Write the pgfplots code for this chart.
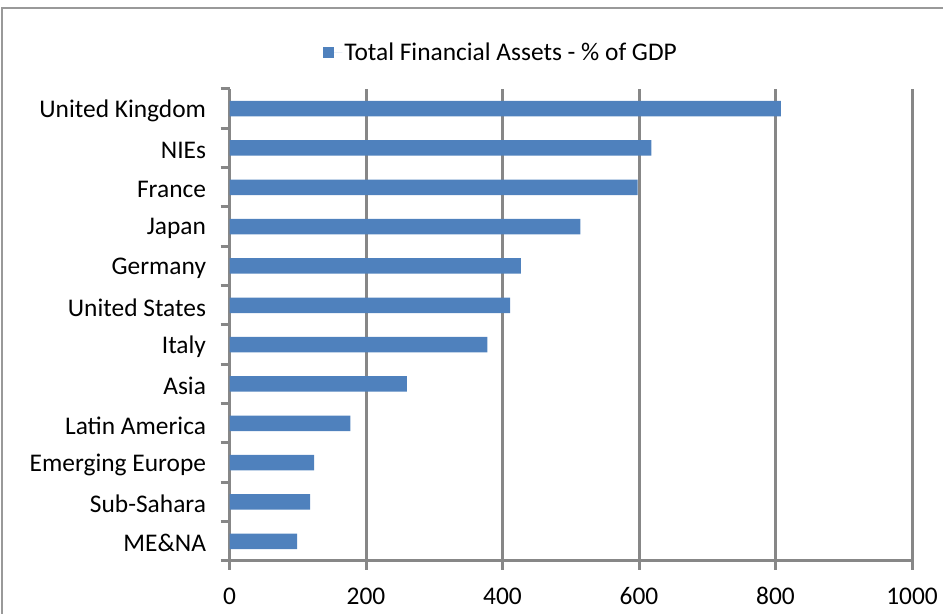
\documentclass[border=0pt]{standalone}
\usepackage{fontspec}
\setmainfont{Carlito}
\usepackage{pgfplots}
\pgfplotsset{compat=1.18}
\definecolor{barblue}{HTML}{4F81BD}
\definecolor{axgray}{HTML}{878787}
\begin{document}
\begin{tikzpicture}[x=1bp,y=1bp]
\useasboundingbox (0,0) rectangle (943,614);
\draw[axgray!85, line width=2bp] (2,-2) -- (2,606) -- (945,606);
\begin{axis}[
  at={(229.5bp,53bp)}, anchor=south west,
  scale only axis, width=682.5bp, height=472bp,
  xbar, bar width=15.5bp,
  xmin=0, xmax=1000, ymin=-0.5, ymax=11.5,
  xtick={0,200,...,1000},
  ytick={0,...,11},
  yticklabels={ME\&NA, Sub-Sahara, Emerging Europe, Latin America, Asia, Italy, United States, Germany, Japan, France, NIEs, United Kingdom},
  minor ytick={-0.5,0.5,...,11.5},
  axis x line*=bottom, axis y line*=left,
  axis line style={axgray, line width=3bp, -},
  xmajorgrids, major grid style={axgray, line width=3bp},
  tick align=outside,
  major tick length=9bp, minor tick length=9bp,
  xtick style={axgray, line width=3bp},
  major y tick style={draw=none},
  minor y tick style={axgray, line width=3bp, draw=axgray},
  /pgf/number format/assume math mode=true,
  /pgf/number format/1000 sep={},
  ticklabel style={font=\fontsize{25.5}{30}\selectfont},
  xticklabel style={yshift=-14bp},
  yticklabel style={xshift=-11bp, yshift=-2bp},
  legend style={at={(0.398,1.078)}, anchor=center, draw=none, fill=none,
    font=\fontsize{25.5}{30}\selectfont, inner sep=0pt},
  legend image code/.code={\fill[barblue] (0bp,-5.5bp) rectangle (11bp,5.5bp);\path (0bp,0bp) -- (19bp,0bp);},
]
\addplot[fill=barblue, draw=none] coordinates {
(99,0) (118,1) (124,2) (177,3) (260,4) (378,5) (411,6) (427,7) (514,8) (598,9) (618,10) (808,11)
};
\addlegendentry{Total Financial Assets - \% of GDP}
\end{axis}
\end{tikzpicture}
\end{document}
